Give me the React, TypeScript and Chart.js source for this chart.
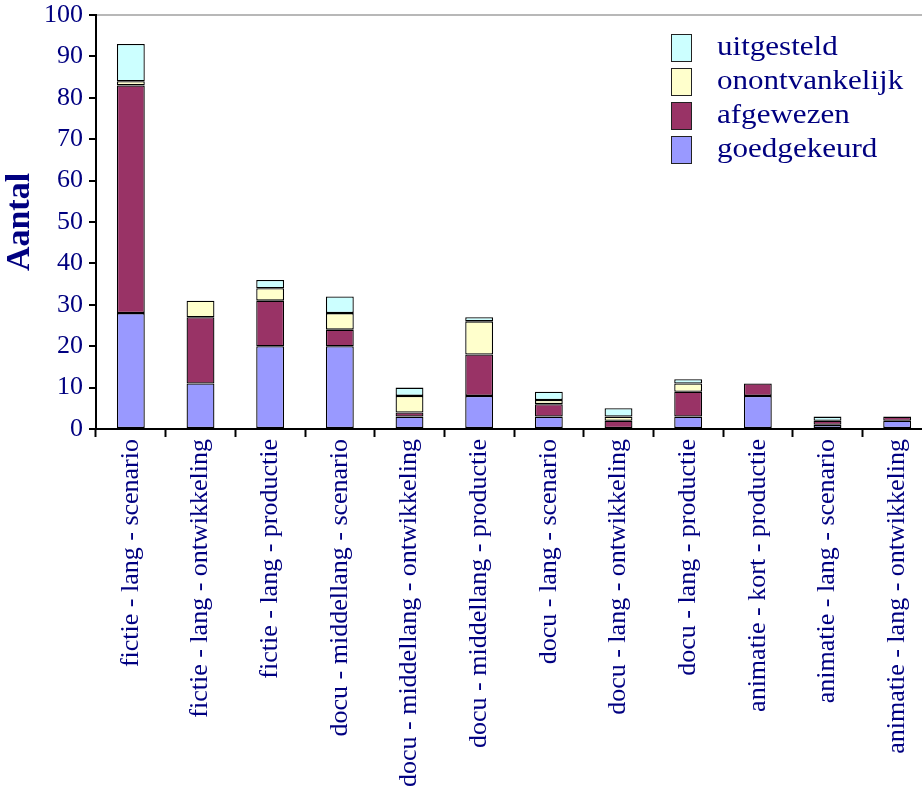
import React, { useEffect, useRef } from "react";
import { Chart, registerables } from "chart.js";

Chart.register(...registerables);

const categories = [
  "fictie - lang - scenario",
  "fictie - lang - ontwikkeling",
  "fictie - lang - productie",
  "docu - middellang - scenario",
  "docu - middellang - ontwikkeling",
  "docu - middellang - productie",
  "docu - lang - scenario",
  "docu - lang - ontwikkeling",
  "docu - lang - productie",
  "animatie - kort - productie",
  "animatie - lang - scenario",
  "animatie - lang - ontwikkeling",
];

const goedgekeurd = [28, 11, 20, 20, 3, 8, 3, 0, 3, 8, 1, 2];
const afgewezen = [55, 16, 11, 4, 1, 10, 3, 2, 6, 3, 1, 1];
const onontvankelijk = [1, 4, 3, 4, 4, 8, 1, 1, 2, 0, 0, 0];
const uitgesteld = [9, 0, 2, 4, 2, 1, 2, 2, 1, 0, 1, 0];

const seriesNames = ["goedgekeurd", "afgewezen", "onontvankelijk", "uitgesteld"];
const seriesColors = ["#9999FF", "#993366", "#FFFFCC", "#CCFFFF"];

const yMin = 0;
const yMax = 100;
const yStep = 10;

const FONT = '"Liberation Serif", "Times New Roman", serif';
const NAVY = "#000080";

const insideLegend = {
  id: "insideLegend",
  afterDraw(chart: any) {
    const { ctx, chartArea } = chart;
    const items = [...chart.data.datasets].reverse();
    const x0 = chartArea.left + 575;
    const y0 = chartArea.top + 19;
    const step = 34;
    ctx.save();
    items.forEach((ds: any, i: number) => {
      const y = y0 + i * step;
      ctx.fillStyle = ds.backgroundColor;
      ctx.fillRect(x0, y, 20, 27);
      ctx.strokeStyle = "#222";
      ctx.lineWidth = 1;
      ctx.strokeRect(x0 + 0.5, y + 0.5, 20, 27);
      ctx.save();
      ctx.translate(x0 + 46, y + 14);
      ctx.scale(1.15, 1);
      ctx.font = `27px ${FONT}`;
      ctx.fillStyle = NAVY;
      ctx.textBaseline = "middle";
      ctx.textAlign = "left";
      ctx.fillText(ds.label, 0, 0);
      ctx.restore();
    });
    ctx.restore();
  },
};

export default function App() {
  const canvasRef = useRef<HTMLCanvasElement | null>(null);

  useEffect(() => {
    if (!canvasRef.current) return;
    const values = [goedgekeurd, afgewezen, onontvankelijk, uitgesteld];
    const chart = new Chart(canvasRef.current, {
      type: "bar",
      data: {
        labels: categories,
        datasets: seriesNames.map((name, i) => ({
          label: name,
          data: values[i].map((v) => (v === 0 ? null : v)),
          backgroundColor: seriesColors[i],
          borderColor: "#000",
          borderWidth: 1.3,
          borderSkipped: false,
          barPercentage: 0.4,
          categoryPercentage: 1.0,
        })),
      },
      options: {
        animation: false,
        responsive: true,
        maintainAspectRatio: false,
        layout: { padding: { top: 15, left: 0, right: 0, bottom: 0 } },
        plugins: {
          legend: { display: false },
          tooltip: { enabled: false },
        },
        scales: {
          x: {
            stacked: true,
            afterFit: (scale: any) => {
              scale.height = 795 - 429;
              scale.paddingLeft = 0;
              scale.paddingRight = 0;
            },
            border: { color: "#000", width: 2 },
            grid: {
              offset: true,
              drawOnChartArea: false,
              color: "#000",
              tickColor: "#000",
              tickLength: 8,
              tickWidth: 2,
            },
            ticks: {
              minRotation: 90,
              maxRotation: 90,
              autoSkip: false,
              padding: 2,
              color: NAVY,
              font: { family: FONT, size: 26 },
            },
          },
          y: {
            stacked: true,
            min: yMin,
            max: yMax,
            afterFit: (scale: any) => {
              scale.width = 96;
              scale.paddingTop = 0;
              scale.paddingBottom = 0;
            },
            border: { color: "#000", width: 2 },
            grid: {
              drawOnChartArea: true,
              color: (c: any) => (c.tick && c.tick.value === yMax ? "#b8b8b8" : "rgba(0,0,0,0)"),
              lineWidth: 2,
              tickColor: "#000",
              tickLength: 7,
              tickWidth: 2,
            },
            ticks: {
              stepSize: yStep,
              padding: 6,
              color: NAVY,
              font: { family: FONT, size: 26 },
            },
            title: {
              display: true,
              text: "Aantal",
              color: NAVY,
              padding: { top: 0, bottom: 2 },
              font: { family: FONT, size: 34, weight: "bold" },
            },
          },
        },
      },
      plugins: [insideLegend],
    });
    return () => chart.destroy();
  }, []);

  return (
    <div
      style={{
        position: "absolute",
        left: 0,
        top: 0,
        width: 922,
        height: 795,
        overflow: "hidden",
        background: "#fff",
      }}
    >
      <div style={{ position: "relative", width: 932, height: 795 }}>
        <canvas ref={canvasRef} />
      </div>
    </div>
  );
}
